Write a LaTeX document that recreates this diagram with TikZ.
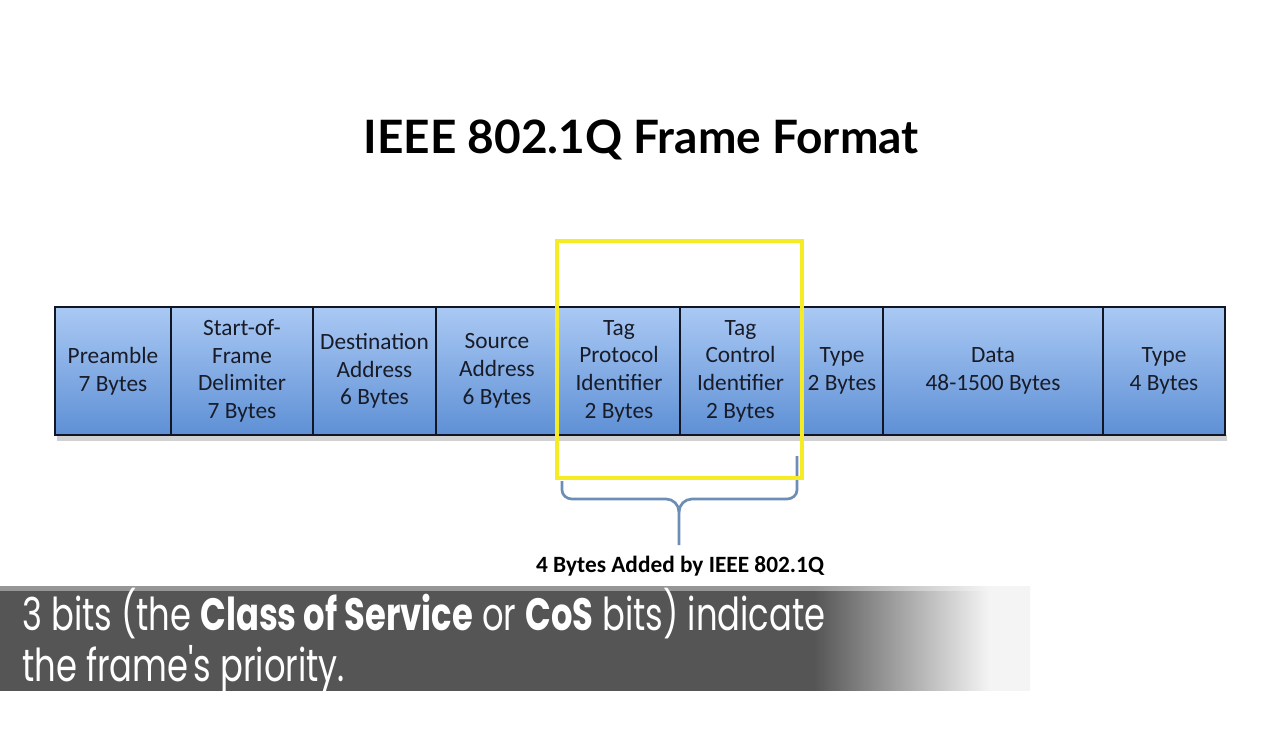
\documentclass[tikz,border=0pt]{standalone}
\usepackage{fontspec}
\setmainfont{Carlito}
\newfontfamily\titlefont{Lato}
\newfontfamily\bannerfont[FakeStretch=0.745]{Poppins}
\definecolor{cellA}{RGB}{170,201,244}
\definecolor{cellB}{RGB}{94,144,213}
\definecolor{cellline}{RGB}{18,22,36}
\definecolor{celltext}{RGB}{25,28,40}
\definecolor{hiyellow}{RGB}{246,236,38}
\definecolor{bracecol}{RGB}{108,142,182}
\definecolor{bannergray}{RGB}{85,85,85}
\definecolor{bannerlight}{RGB}{150,150,150}
\definecolor{bannerend}{RGB}{244,244,244}
\pgfdeclarehorizontalshading{bannershade}{100bp}{color(0bp)=(bannergray); color(25bp)=(bannergray); color(64.5bp)=(bannergray); color(73bp)=(bannerend); color(75bp)=(bannerend); color(100bp)=(bannerend)}
\pgfdeclarehorizontalshading{bannertopshade}{100bp}{color(0bp)=(bannerlight); color(25bp)=(bannerlight); color(64.5bp)=(bannerlight); color(73bp)=(bannerend); color(75bp)=(bannerend); color(100bp)=(bannerend)}
\tikzset{
  cell/.style={draw=cellline, line width=1.9pt, top color=cellA, bottom color=cellB,
    minimum height=96pt, inner sep=0pt, align=center, text=celltext,
    font=\fontsize{17.5}{20.8}\selectfont},
  hlbox/.style={draw=hiyellow, line width=3pt, inner sep=0pt},
  bracestyle/.style={draw=bracecol, line width=2pt},
  bannertext/.style={anchor=base west, text=white, inner sep=0pt,
    font=\bannerfont\fontsize{34}{40}\selectfont}
}
\begin{document}
\begin{tikzpicture}[x=0.75pt,y=-0.75pt]
\useasboundingbox[fill=white] (0,0) rectangle (1280,738);
% title
\node[font=\titlefont\bfseries\fontsize{34.5}{40}\selectfont] (title) at (641,140) {IEEE 802.1Q Frame Format};
% shadow under frame
\fill[black!18] (57,435) rectangle (1227,441);
% cells
\node[cell, minimum width=87pt]    (pre)  at (113,371)   {Preamble\\7 Bytes};
\node[cell, minimum width=106.5pt] (sof)  at (242,371)   {Start-of-\\Frame\\Delimiter\\7 Bytes};
\node[cell, minimum width=92.25pt] (dst)  at (374.5,371) {Destination\\Address\\6 Bytes};
\node[cell, minimum width=91.5pt]  (src)  at (497,371)   {Source\\Address\\6 Bytes};
\node[cell, minimum width=91.5pt]  (tpi)  at (619,371)   {Tag\\Protocol\\Identifier\\2 Bytes};
\node[cell, minimum width=90.75pt] (tci)  at (740.5,371) {Tag\\Control\\Identifier\\2 Bytes};
\node[cell, minimum width=61.5pt]  (typ)  at (842,371)   {Type\\2 Bytes};
\node[cell, minimum width=165pt]   (dat)  at (993,371)   {Data\\48-1500 Bytes};
\node[cell, minimum width=91.5pt]  (fcs)  at (1164,371)  {Type\\4 Bytes};
% brace
\coordinate (bl) at (562,481);
\coordinate (br) at (797,456);
\coordinate (bt) at (679,545);
\draw[bracestyle] (bl) -- (562,490) to[out=-90,in=180] (572,499) -- (666,499)
   to[out=0,in=90] (679,512) -- (bt);
\draw[bracestyle] (br) -- (797,490) to[out=-90,in=0] (787,499) -- (692,499)
   to[out=180,in=90] (679,512);
% highlight box
\node[hlbox, minimum width=183.75pt, minimum height=177.75pt] (hl) at (679.5,359.5) {};
% brace label
\node[font=\bfseries\fontsize{17.5}{20}\selectfont] (lbl) at (680,566) {4 Bytes Added by IEEE 802.1Q};
% banner
\shade[shading=bannershade] (0,588) rectangle (1030,690);
\shade[shading=bannertopshade] (0,586) rectangle (1030,590);
\node[bannertext] (b1) at (22,630) {3 bits (the \textbf{Class of Service} or \textbf{CoS} bits) indicate};
\node[bannertext] (b2) at (22,681) {the frame's priority.};
\end{tikzpicture}
\end{document}
